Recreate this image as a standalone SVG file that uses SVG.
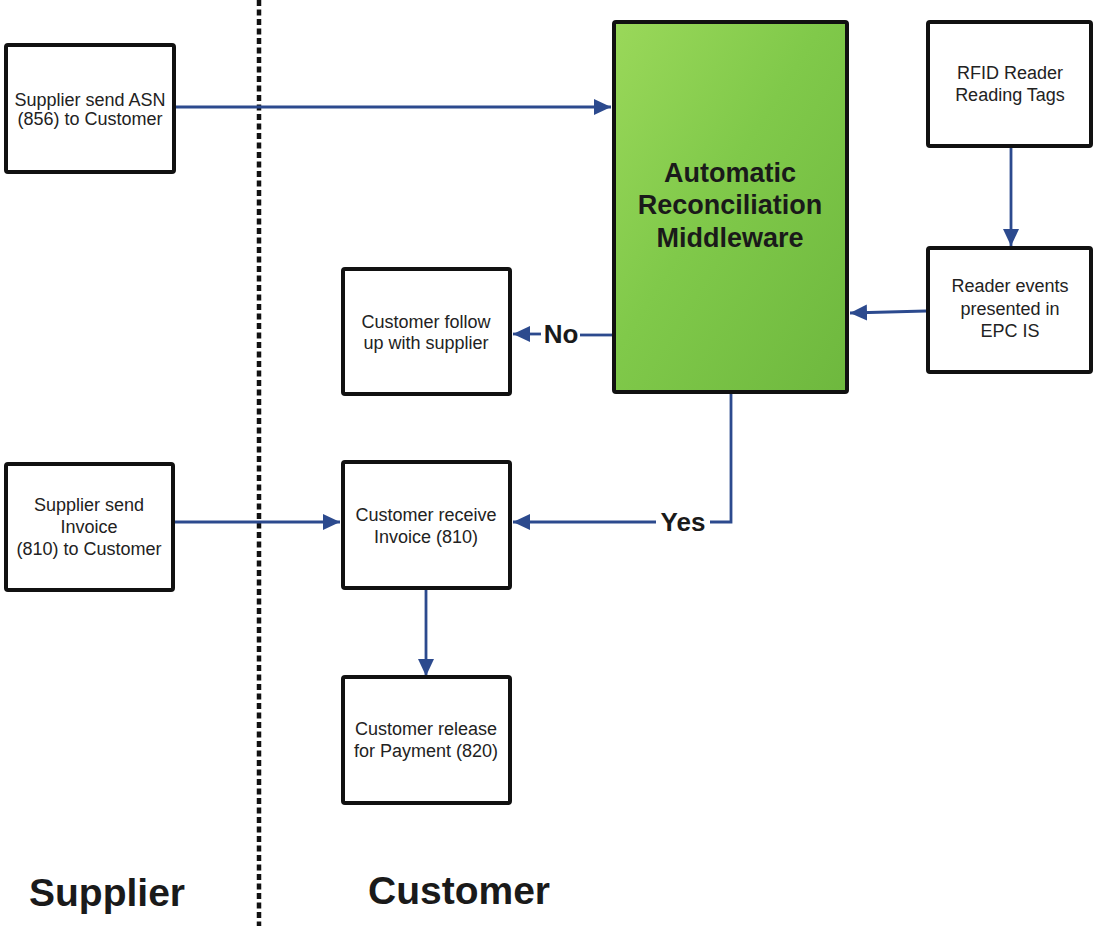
<svg xmlns="http://www.w3.org/2000/svg" width="1095" height="926" viewBox="0 0 1095 926">
  <style>
    .box { fill: #ffffff; stroke: #111111; stroke-width: 4; }
    .mw { fill: url(#greenFill); stroke: #111111; stroke-width: 4; }
    .t { font-family: "Liberation Sans", Arial, sans-serif; font-size: 18px; fill: #222222; text-anchor: middle; }
    .tb { font-family: "Liberation Sans", Arial, sans-serif; font-weight: bold; fill: #1a1a1a; text-anchor: middle; }
    .conn { fill: none; stroke: #2c4a8e; stroke-width: 2.8; }
    .divider { fill: none; stroke: #111111; stroke-width: 4.5; stroke-dasharray: 6 3.5; }
  </style>
  <defs>
    <linearGradient id="greenFill" x1="0" y1="0" x2="1" y2="1">
      <stop offset="0" stop-color="#9ad85a"/>
      <stop offset="0.45" stop-color="#80c94a"/>
      <stop offset="1" stop-color="#6eb83e"/>
    </linearGradient>
    <marker id="arrow" markerUnits="userSpaceOnUse" markerWidth="18" markerHeight="18" viewBox="0 0 18 18" refX="17" refY="9" orient="auto">
      <path d="M0,1 L17,9 L0,17 Z" fill="#2c4a8e"/>
    </marker>
  </defs>

  <rect width="1095" height="926" fill="#ffffff"/>

  <!-- supplier / customer divider -->
  <line class="divider" x1="259" y1="0" x2="259" y2="926"/>

  <!-- connectors -->
  <g id="connectors">
    <line class="conn" x1="175" y1="107" x2="611" y2="107" marker-end="url(#arrow)"/>
    <line class="conn" x1="1011" y1="148" x2="1011" y2="246" marker-end="url(#arrow)"/>
    <line class="conn" x1="926" y1="311" x2="850" y2="313" marker-end="url(#arrow)"/>
    <line class="conn" x1="612" y1="335" x2="580" y2="335"/>
    <line class="conn" x1="541" y1="334" x2="513" y2="334" marker-end="url(#arrow)"/>
    <polyline class="conn" points="731,394 731,522 710,522"/>
    <line class="conn" x1="656" y1="522" x2="513" y2="522" marker-end="url(#arrow)"/>
    <line class="conn" x1="174" y1="522" x2="340" y2="522" marker-end="url(#arrow)"/>
    <line class="conn" x1="426" y1="590" x2="426" y2="676" marker-end="url(#arrow)"/>
    <text class="tb" x="561" y="343" font-size="26">No</text>
    <text class="tb" x="683" y="531" font-size="26">Yes</text>
  </g>

  <g id="supplier-asn">
    <rect class="box" x="6" y="45" width="168" height="127" rx="2"/>
    <text class="t" x="90" y="106">Supplier send ASN</text>
    <text class="t" x="90" y="125">(856) to Customer</text>
  </g>

  <g id="middleware">
    <rect class="mw" x="614" y="22" width="233" height="370" rx="2"/>
    <text class="tb" x="730" y="182" font-size="27">Automatic</text>
    <text class="tb" x="730" y="214" font-size="27">Reconciliation</text>
    <text class="tb" x="730" y="247" font-size="27">Middleware</text>
  </g>

  <g id="rfid-reader">
    <rect class="box" x="928" y="22" width="163" height="124" rx="2"/>
    <text class="t" x="1010" y="79">RFID Reader</text>
    <text class="t" x="1010" y="101">Reading Tags</text>
  </g>

  <g id="reader-events">
    <rect class="box" x="928" y="248" width="163" height="124" rx="2"/>
    <text class="t" x="1010" y="292">Reader events</text>
    <text class="t" x="1010" y="315">presented in</text>
    <text class="t" x="1010" y="337">EPC IS</text>
  </g>

  <g id="follow-up">
    <rect class="box" x="343" y="269" width="167" height="125" rx="2"/>
    <text class="t" x="426" y="328">Customer follow</text>
    <text class="t" x="426" y="349">up with supplier</text>
  </g>

  <g id="supplier-invoice">
    <rect class="box" x="6" y="464" width="167" height="126" rx="2"/>
    <text class="t" x="89" y="511">Supplier send</text>
    <text class="t" x="89" y="533">Invoice</text>
    <text class="t" x="89" y="555">(810) to Customer</text>
  </g>

  <g id="customer-receive">
    <rect class="box" x="343" y="462" width="167" height="126" rx="2"/>
    <text class="t" x="426" y="521">Customer receive</text>
    <text class="t" x="426" y="543">Invoice (810)</text>
  </g>

  <g id="customer-release">
    <rect class="box" x="343" y="677" width="167" height="126" rx="2"/>
    <text class="t" x="426" y="735">Customer release</text>
    <text class="t" x="426" y="757">for Payment (820)</text>
  </g>

  <g id="lane-labels">
    <text class="tb" x="107" y="906" font-size="39">Supplier</text>
    <text class="tb" x="459" y="904" font-size="39">Customer</text>
  </g>
</svg>
